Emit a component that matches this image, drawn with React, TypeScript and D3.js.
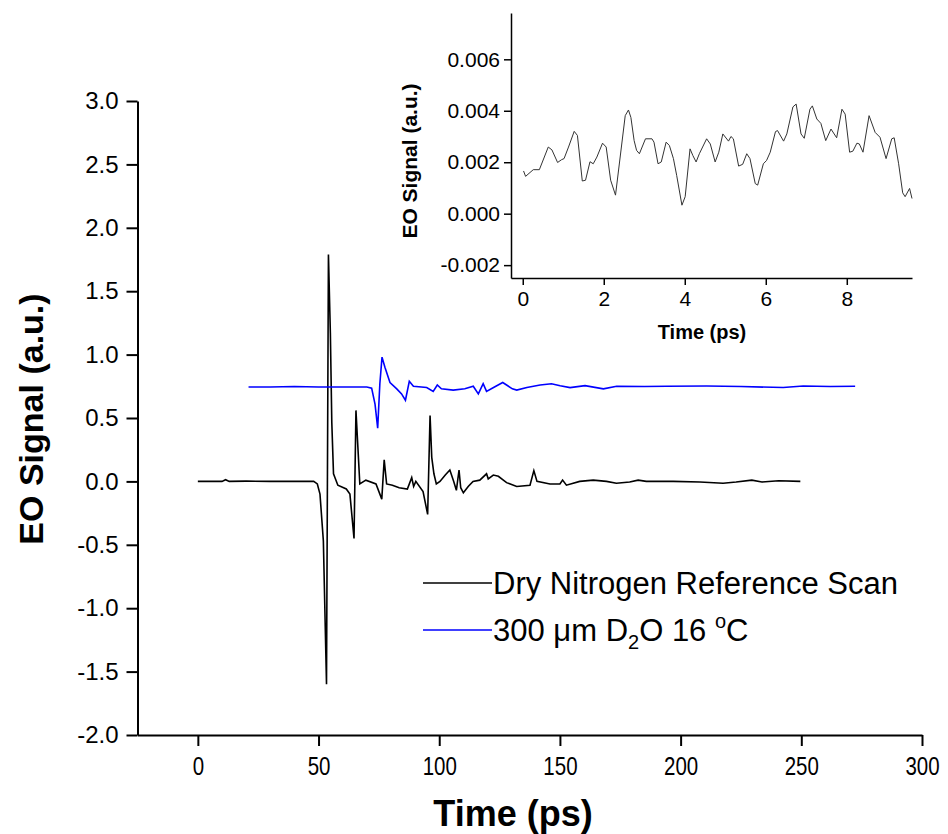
import React, { useEffect, useRef } from 'react';
import * as d3 from 'd3';

// Dry nitrogen reference scan (ps, a.u.)
const refTime = [0, 5, 10, 11.5, 13, 20, 30, 40, 48, 49.5, 50.6, 52, 53.3, 54.1, 54.9, 55.5, 56.2, 58, 61.5, 63, 64.7, 65.5, 66.3, 67.1, 69.6, 73.8, 76.2, 77.2, 78.2, 80.6, 83.4, 86.8, 88.6, 89.4, 90.3, 93.3, 95.2, 96.2, 96.9, 97.8, 98.8, 100.3, 102.5, 104.4, 106, 107.1, 108.2, 108.9, 110, 112, 114, 116.8, 119.6, 120.3, 122.4, 124.5, 127.9, 132.1, 137.6, 139.2, 140.5, 145.9, 150, 151.1, 152.7, 158.2, 163.8, 169.3, 173.4, 178.9, 182.4, 185.8, 196.9, 208, 217.6, 223, 229.5, 233.7, 240.6, 249.6];
const refSignal = [0, 0, 0, 0.013, 0, 0.002, 0, 0, 0, -0.02, -0.1, -0.47, -1.6, 1.79, 1.17, 0.46, 0.06, -0.03, -0.06, -0.1, -0.45, 0.56, 0.27, -0.02, 0.01, -0.02, -0.14, 0.17, -0.02, -0.03, -0.05, -0.06, 0.03, -0.04, 0.0, -0.08, -0.26, 0.52, 0.19, 0.06, -0.02, 0.0, 0.05, 0.09, 0.0, -0.07, 0.09, -0.05, -0.09, -0.04, 0.0, 0.01, 0.06, 0.02, 0.05, 0.04, -0.01, -0.04, -0.03, 0.085, 0.0, -0.02, -0.02, 0.01, -0.03, 0, 0.01, 0, -0.015, -0.005, 0.01, 0, 0, -0.005, -0.015, -0.005, 0.01, -0.005, 0.005, 0];

// 300 um D2O 16 C (offset trace)
const d2oTime = [21, 30, 40, 50, 60, 70, 72, 73.4, 74.5, 75.4, 76.3, 77.5, 79.6, 82.4, 84.4, 86, 87.6, 89.3, 94.8, 97.5, 99.2, 100.9, 105.8, 110.6, 114.1, 116.2, 118.2, 119.6, 122.5, 126.3, 127.9, 130.3, 132.1, 136.3, 141.8, 146.5, 150.1, 154.2, 160.4, 168, 173.5, 185, 194.2, 210.8, 225, 242.5, 250.8, 262, 272.3];
const d2oSignal = [0.745, 0.745, 0.748, 0.745, 0.745, 0.745, 0.735, 0.61, 0.42, 0.77, 0.98, 0.9, 0.78, 0.73, 0.69, 0.64, 0.79, 0.75, 0.74, 0.71, 0.76, 0.73, 0.72, 0.73, 0.75, 0.69, 0.77, 0.71, 0.74, 0.78, 0.76, 0.73, 0.72, 0.74, 0.76, 0.77, 0.755, 0.74, 0.755, 0.73, 0.75, 0.748, 0.75, 0.752, 0.748, 0.74, 0.752, 0.748, 0.75];

// inset trace
const insetTime = [0.02, 0.07, 0.26, 0.41, 0.63, 0.72, 0.86, 0.96, 1.02, 1.13, 1.27, 1.35, 1.47, 1.55, 1.66, 1.74, 1.83, 1.97, 2.06, 2.17, 2.29, 2.53, 2.61, 2.67, 2.75, 2.81, 2.88, 3.03, 3.19, 3.24, 3.34, 3.42, 3.54, 3.62, 3.72, 3.8, 3.93, 4.01, 4.13, 4.2, 4.28, 4.36, 4.54, 4.63, 4.75, 4.84, 4.94, 5.08, 5.14, 5.2, 5.33, 5.43, 5.53, 5.61, 5.74, 5.8, 5.94, 6.02, 6.11, 6.24, 6.29, 6.44, 6.52, 6.67, 6.75, 6.87, 6.95, 7.09, 7.15, 7.26, 7.36, 7.48, 7.61, 7.75, 7.88, 7.96, 8.07, 8.15, 8.25, 8.31, 8.4, 8.55, 8.7, 8.82, 8.97, 9.11, 9.17, 9.28, 9.38, 9.44, 9.55, 9.61];
const insetSignal = [0.00166, 0.00145, 0.00171, 0.00171, 0.00259, 0.00248, 0.00199, 0.0021, 0.00214, 0.00259, 0.0032, 0.00304, 0.00127, 0.0013, 0.00202, 0.00194, 0.0022, 0.00274, 0.00259, 0.0013, 0.00072, 0.00381, 0.00403, 0.00374, 0.00284, 0.00246, 0.00233, 0.00291, 0.00291, 0.00278, 0.00194, 0.00201, 0.00278, 0.00265, 0.00214, 0.00149, 0.00033, 0.00066, 0.00252, 0.00226, 0.00201, 0.00233, 0.00291, 0.00271, 0.00201, 0.00239, 0.0031, 0.00282, 0.003, 0.00291, 0.00185, 0.00192, 0.00233, 0.00214, 0.00117, 0.00111, 0.00194, 0.00207, 0.00239, 0.00319, 0.00323, 0.00282, 0.0031, 0.00415, 0.00426, 0.0031, 0.00293, 0.00406, 0.00419, 0.00368, 0.00351, 0.00284, 0.00329, 0.00295, 0.00406, 0.00387, 0.00239, 0.00243, 0.00274, 0.00271, 0.00239, 0.00381, 0.00316, 0.00297, 0.00214, 0.00291, 0.00295, 0.00194, 0.00081, 0.00066, 0.00098, 0.00059];

const xTicks = [0, 50, 100, 150, 200, 250, 300];
const xMinor = [-25, 25, 75, 125, 175, 225, 275];
const yTicks = [-2, -1.5, -1, -0.5, 0, 0.5, 1, 1.5, 2, 2.5, 3];
const yMinor = [-1.75, -1.25, -0.75, -0.25, 0.25, 0.75, 1.25, 1.75, 2.25, 2.75];
const insetXTicks = [0, 2, 4, 6, 8];
const insetXMinor = [1, 3, 5, 7, 9];
const insetYTicks = [-0.002, 0, 0.002, 0.004, 0.006];
const insetYMinor = [-0.001, 0.001, 0.003, 0.005, 0.007];

const FONT = '"Liberation Sans", Arial, sans-serif';

const App = () => {
  const svgRef = useRef(null);

  useEffect(() => {
    const svg = d3.select(svgRef.current);
    svg.selectAll('*').remove();

    /* main axes ---------------------------------- */
    const x = d3.scaleLinear().domain([-25, 300]).range([137.5, 922]);
    const y = d3.scaleLinear().domain([-2, 3]).range([735, 101]);

    const gx = svg.append('g').attr('transform', `translate(0, ${y(-2)})`);
    gx.call(d3.axisBottom(x).tickValues(xMinor).tickSize(6).tickSizeOuter(0).tickFormat(() => ''));
    gx.call(d3.axisBottom(x).tickValues(xTicks).tickSize(11).tickSizeOuter(0).tickPadding(11).tickFormat(d => String(d)));

    const gy = svg.append('g').attr('transform', `translate(${x(-25)}, 0)`);
    gy.call(d3.axisLeft(y).tickValues(yMinor).tickSize(6).tickSizeOuter(0).tickFormat(() => ''));
    gy.call(d3.axisLeft(y).tickValues(yTicks).tickSize(11).tickSizeOuter(0).tickPadding(8).tickFormat(d => d.toFixed(1)));

    [gx, gy].forEach(g => {
      g.selectAll('path.domain').attr('stroke', '#000').attr('stroke-width', 2);
      g.selectAll('line').attr('stroke', '#000').attr('stroke-width', 2);
      g.selectAll('text').attr('fill', '#000').style('font-family', FONT);
    });
    // x tick labels look condensed in the original
    gx.selectAll('text').style('font-size', '25px').attr('transform', 'scale(0.82,1)');
    gy.selectAll('text').style('font-size', '24px');

    const line = d3.line().x(d => x(d[0])).y(d => y(d[1]));
    svg.append('path')
      .datum(refTime.map((t, i) => [t, refSignal[i]]))
      .attr('d', line).attr('fill', 'none').attr('stroke', '#000').attr('stroke-width', 1.6);
    svg.append('path')
      .datum(d2oTime.map((t, i) => [t, d2oSignal[i]]))
      .attr('d', line).attr('fill', 'none').attr('stroke', '#0000ff').attr('stroke-width', 1.6);

    svg.append('text').attr('x', 513).attr('y', 826).attr('text-anchor', 'middle')
      .style('font-family', FONT).style('font-size', '36px').style('font-weight', 'bold').text('Time (ps)');
    svg.append('text').attr('transform', 'translate(43, 419) rotate(-90)').attr('text-anchor', 'middle')
      .style('font-family', FONT).style('font-size', '34px').style('font-weight', 'bold').text('EO Signal (a.u.)');

    /* legend ------------------------------------- */
    const lg = svg.append('g').style('font-family', FONT).style('font-size', '31px');
    lg.append('line').attr('x1', 423).attr('x2', 492).attr('y1', 583).attr('y2', 583).attr('stroke', '#000').attr('stroke-width', 1.5);
    lg.append('text').attr('x', 493).attr('y', 594).text('Dry Nitrogen Reference Scan');
    lg.append('line').attr('x1', 423).attr('x2', 492).attr('y1', 630).attr('y2', 630).attr('stroke', '#0000ff').attr('stroke-width', 1.5);
    const t2 = lg.append('text').attr('x', 493).attr('y', 641);
    t2.append('tspan').text('300 \u03bcm D');
    t2.append('tspan').attr('dy', 8).style('font-size', '20px').text('2');
    t2.append('tspan').attr('dy', -8).text('O 16 ');
    t2.append('tspan').attr('dy', -13).style('font-size', '20px').text('o');
    t2.append('tspan').attr('dy', 13).text('C');

    /* inset -------------------------------------- */
    const ix = d3.scaleLinear().domain([-0.29, 9.61]).range([511, 912]);
    const iy = d3.scaleLinear().domain([-0.0025, 0.0078]).range([278, 13]);

    const igx = svg.append('g').attr('transform', `translate(0, ${iy(-0.0025)})`);
    igx.call(d3.axisBottom(ix).tickValues(insetXMinor).tickSize(4).tickSizeOuter(0).tickFormat(() => ''));
    igx.call(d3.axisBottom(ix).tickValues(insetXTicks).tickSize(7).tickSizeOuter(0).tickPadding(6).tickFormat(d => String(d)));

    const igy = svg.append('g').attr('transform', `translate(${ix(-0.29)}, 0)`);
    igy.call(d3.axisLeft(iy).tickValues(insetYMinor).tickSize(4).tickSizeOuter(0).tickFormat(() => ''));
    igy.call(d3.axisLeft(iy).tickValues(insetYTicks).tickSize(7).tickSizeOuter(0).tickPadding(4).tickFormat(d => d.toFixed(3)));

    [igx, igy].forEach(g => {
      g.selectAll('path.domain').attr('stroke', '#000').attr('stroke-width', 1.5);
      g.selectAll('line').attr('stroke', '#000').attr('stroke-width', 1.5);
      g.selectAll('text').attr('fill', '#000').style('font-family', FONT).style('font-size', '21px');
    });

    const iline = d3.line().x(d => ix(d[0])).y(d => iy(d[1]));
    svg.append('path')
      .datum(insetTime.map((t, i) => [t, insetSignal[i]]))
      .attr('d', iline).attr('fill', 'none').attr('stroke', '#333').attr('stroke-width', 1);

    svg.append('text').attr('x', 702).attr('y', 339).attr('text-anchor', 'middle')
      .style('font-family', FONT).style('font-size', '20px').style('font-weight', 'bold').text('Time (ps)');
    svg.append('text').attr('transform', 'translate(417, 161) rotate(-90)').attr('text-anchor', 'middle')
      .style('font-family', FONT).style('font-size', '21px').style('font-weight', 'bold').text('EO Signal (a.u.)');
  }, []);

  return (
    <svg ref={svgRef} width={948} height={834}
      style={{ position: 'absolute', left: 0, top: 0, background: '#fff' }} />
  );
};

export default App;
